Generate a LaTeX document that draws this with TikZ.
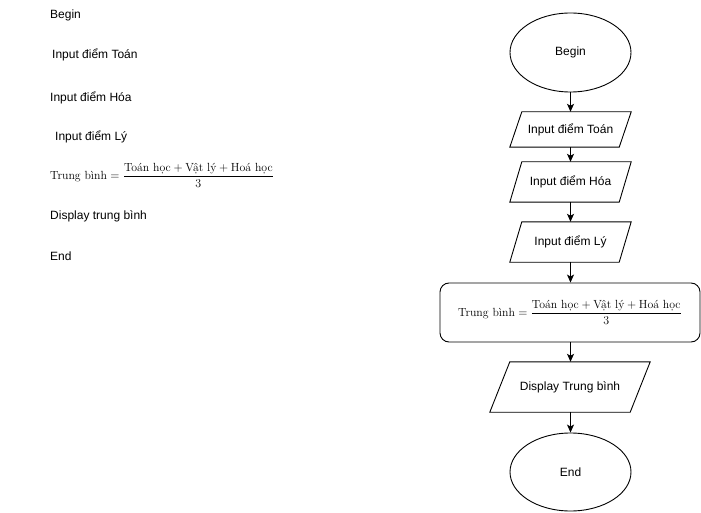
\documentclass[tikz,border=0pt]{standalone}
\usepackage{fontspec}
\newfontfamily\arialfont{Liberation Sans}
\usetikzlibrary{shapes.geometric,arrows.meta}
\newcommand{\formulatext}{$\displaystyle\mbox{Trung bình} = \frac{\mbox{Toán học} + \mbox{Vật lý} + \mbox{Hoá học}}{3}$}
\tikzset{
  every node/.style={font=\arialfont\fontsize{12}{14}\selectfont},
  lefttext/.style={anchor=west, inner sep=0pt},
  oval/.style={draw, ellipse, line width=0.9pt, minimum width=121pt, minimum height=79pt, inner sep=0pt},
  para/.style={minimum width=#1, inner sep=0pt},
  calcbox/.style={draw, rounded corners=9pt, line width=0.9pt, minimum width=260pt, minimum height=59pt, inner sep=0pt},
  flow/.style={draw, line width=0.9pt, -{Stealth[length=8pt,width=7pt,inset=2pt]}},
  frm/.style={font=\fontsize{11.8}{14}\selectfont}
}
\newcommand{\drawpara}[2]{\draw[line width=0.9pt] ([xshift=#2]#1.north west) -- (#1.north east) -- ([xshift=-#2]#1.south east) -- (#1.south west) -- cycle;}
\begin{document}
\begin{tikzpicture}[x=1pt,y=-1pt]
\useasboundingbox (0,0) rectangle (701,513);
\fill[white] (0,0) rectangle (701,513);
% left column text
\node[lefttext] (lbegin) at (50,15.5) {Begin};
\node[lefttext] (ltoan) at (52,54.5) {Input điểm Toán};
\node[lefttext] (lhoa) at (50,97.5) {Input điểm Hóa};
\node[lefttext] (lly) at (55,136.5) {Input điểm Lý};
\node[lefttext, frm] (lcalc) at (50,175.5) {\formulatext};
\node[lefttext] (ldisp) at (50,216.5) {Display trung bình};
\node[lefttext] (lend) at (50,256.5) {End};
% flowchart
\node[oval] (begin) at (570.5,52.5) {Begin};
\node[para=121pt, minimum height=35pt] (in1) at (570.5,129.5) {Input điểm Toán};
\drawpara{in1}{12pt}
\node[para=121pt, minimum height=40pt] (in2) at (570.5,182) {Input điểm Hóa};
\drawpara{in2}{12pt}
\node[para=121pt, minimum height=40pt] (in3) at (570.5,242) {Input điểm Lý};
\drawpara{in3}{12pt}
\node[calcbox, frm] (calc) at (570,312.5) {\formulatext};
\node[para=160pt, minimum height=50pt] (disp) at (570,387) {Display Trung bình};
\drawpara{disp}{20pt}
\node[oval, minimum height=78pt] (end) at (570.5,472) {End};
\draw[flow] (begin) -- (in1);
\draw[flow] (in1) -- (in2);
\draw[flow] (in2) -- (in3);
\draw[flow] (in3) -- (calc.north -| in3);
\draw[flow] (calc.south -| in3) -- (disp.north -| in3);
\draw[flow] (disp.south -| in3) -- (end);
\end{tikzpicture}
\end{document}
